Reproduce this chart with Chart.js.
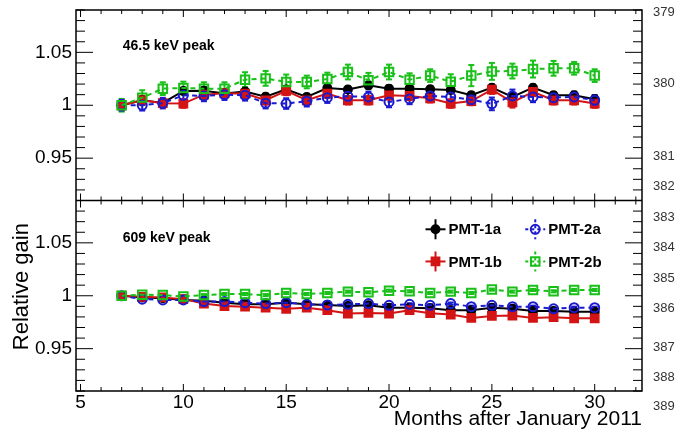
<!DOCTYPE html>
<html>
<head>
<meta charset="utf-8">
<script src="https://cdn.jsdelivr.net/npm/chart.js@4.4.1/dist/chart.umd.min.js"></script>
<style>
  html, body { margin: 0; padding: 0; background: #fff; }
  #wrap { width: 676px; height: 432px; }
</style>
</head>
<body>
<div id="wrap"><canvas id="gainChart" width="676" height="432"></canvas></div>
<script>
// months after January 2011
const months = [7, 8, 9, 10, 11, 12, 13, 14, 15, 16, 17, 18, 19, 20, 21, 22, 23, 24, 25, 26, 27, 28, 29, 30];

// 46.5 keV peak (top pad)
const low1a = [1.0, 1.0047, 1.0022, 1.0135, 1.0138, 1.011, 1.0129, 1.008, 1.015, 1.0078, 1.0163, 1.0148,
               1.0188, 1.0157, 1.0157, 1.0151, 1.0144, 1.0094, 1.0166, 1.0079, 1.0166, 1.0094, 1.0094, 1.0057];
const low1b = [1.0, 1.0047, 1.002, 1.0016, 1.010, 1.0113, 1.011, 1.0047, 1.0135, 1.0047, 1.011, 1.0047,
               1.0047, 1.0094, 1.0088, 1.0066, 1.0016, 1.004, 1.0148, 1.0028, 1.0126, 1.0047, 1.0047, 1.0016];
const low2a = [1.0, 1.0, 1.002, 1.0094, 1.0088, 1.010, 1.0094, 1.002, 1.0016, 1.0038, 1.0072, 1.0085,
               1.0079, 1.0031, 1.006, 1.0088, 1.0079, 1.0053, 1.0013, 1.0088, 1.0079, 1.0072, 1.0079, 1.0047];
const low2b = [1.0, 1.0072, 1.0157, 1.0163, 1.0157, 1.0157, 1.0242, 1.0254, 1.022, 1.022, 1.0248, 1.0314,
               1.0236, 1.0314, 1.0242, 1.028, 1.0223, 1.028, 1.032, 1.0323, 1.0342, 1.0349, 1.0349, 1.028];
const lowErr1a = [0.003, 0.003, 0.003, 0.003, 0.003, 0.003, 0.003, 0.003, 0.003, 0.003, 0.003, 0.003,
                  0.003, 0.003, 0.003, 0.003, 0.003, 0.003, 0.003, 0.003, 0.003, 0.003, 0.003, 0.003];
const lowErr1b = [0.004, 0.004, 0.004, 0.004, 0.004, 0.004, 0.004, 0.004, 0.004, 0.004, 0.004, 0.004,
                  0.004, 0.004, 0.004, 0.004, 0.004, 0.004, 0.004, 0.005, 0.004, 0.004, 0.004, 0.004];
const lowErr2a = [0.005, 0.005, 0.005, 0.005, 0.005, 0.005, 0.005, 0.005, 0.005, 0.005, 0.005, 0.005,
                  0.005, 0.005, 0.005, 0.005, 0.005, 0.005, 0.006, 0.006, 0.005, 0.005, 0.005, 0.005];
const lowErr2b = [0.006, 0.007, 0.006, 0.006, 0.006, 0.006, 0.007, 0.007, 0.007, 0.006, 0.006, 0.007,
                  0.007, 0.007, 0.006, 0.006, 0.007, 0.010, 0.008, 0.007, 0.008, 0.007, 0.006, 0.006];

// 609 keV peak (bottom pad)
const high1a = [1.0, 0.9984, 0.9977, 0.9961, 0.9952, 0.9935, 0.9919, 0.9919, 0.9935, 0.9919, 0.9913, 0.9903,
                0.991, 0.9887, 0.9887, 0.9881, 0.9864, 0.9864, 0.9887, 0.9877, 0.9855, 0.9855, 0.9848, 0.9848];
const high1b = [1.0, 0.999, 0.9984, 0.9968, 0.9926, 0.9903, 0.9897, 0.9887, 0.9877, 0.9887, 0.9864, 0.9832,
                0.9838, 0.9832, 0.9864, 0.9835, 0.9822, 0.979, 0.9809, 0.9813, 0.979, 0.9797, 0.9787, 0.9787];
const high2a = [1.0, 0.9968, 0.9961, 0.9961, 0.9945, 0.9945, 0.9935, 0.9926, 0.9935, 0.9919, 0.9913, 0.9919,
                0.9926, 0.991, 0.9919, 0.991, 0.9926, 0.9897, 0.991, 0.9897, 0.9897, 0.9877, 0.9887, 0.9887];
const high2b = [1.0, 1.001, 1.0006, 0.9994, 1.0006, 1.0016, 1.0016, 1.0006, 1.0026, 1.0016, 1.0026, 1.0039,
                1.0032, 1.0048, 1.0042, 1.0026, 1.0039, 1.0026, 1.0058, 1.0039, 1.0055, 1.0042, 1.0055, 1.0055];
const highErr = [0.001, 0.001, 0.001, 0.001, 0.001, 0.001, 0.001, 0.001, 0.001, 0.001, 0.001, 0.001,
                 0.001, 0.001, 0.001, 0.001, 0.001, 0.001, 0.001, 0.001, 0.001, 0.001, 0.001, 0.001];

const xTickVals = [5, 10, 15, 20, 25, 30];
const yTickVals = [0.95, 1, 1.05];
const panelNotes = ['46.5 keV peak', '609 keV peak'];
const legendOrder = ['PMT-1a', 'PMT-2a', 'PMT-1b', 'PMT-2b'];

// stray labels on the right edge of the frame
const sideTopLabels = ['379', '380', '381', '382'];
const sideBotLabels = ['383', '384', '385', '386', '387', '388', '389'];

const styles = {
  'PMT-1a': { color: '#000000', fill: '#000000', dash: [], marker: 'circle', radius: 4 },
  'PMT-1b': { color: '#d41414', fill: '#d41414', dash: [], marker: 'rect', radius: 5.5 },
  'PMT-2a': { color: '#1a1ad0', fill: 'rgba(0,0,0,0)', dash: [5, 4], marker: 'circle', radius: 4.5 },
  'PMT-2b': { color: '#18c018', fill: 'rgba(0,0,0,0)', dash: [5, 4], marker: 'rect', radius: 6 }
};

const FONT = "'Liberation Sans', Arial, sans-serif";

function series(label, values, errors, axis) {
  const st = styles[label];
  return {
    label: label,
    yAxisID: axis,
    data: months.map((m, i) => ({ x: m, y: values[i] })),
    errors: errors,
    borderColor: st.color,
    backgroundColor: st.fill,
    pointBorderColor: st.color,
    pointBackgroundColor: st.fill,
    borderWidth: 2,
    borderDash: st.dash,
    pointStyle: st.marker,
    pointRadius: st.radius,
    pointBorderWidth: 2,
    fill: false,
    tension: 0
  };
}

function line(ctx, x0, y0, x1, y1) {
  ctx.beginPath();
  ctx.moveTo(x0, y0);
  ctx.lineTo(x1, y1);
  ctx.stroke();
}

function marker(ctx, st, x, y) {
  ctx.save();
  ctx.setLineDash([]);
  ctx.lineWidth = 2;
  ctx.strokeStyle = st.color;
  ctx.fillStyle = st.fill;
  ctx.beginPath();
  if (st.marker === 'circle') {
    ctx.arc(x, y, st.radius, 0, Math.PI * 2);
  } else {
    const h = st.radius * Math.SQRT1_2;
    ctx.rect(x - h, y - h, 2 * h, 2 * h);
  }
  ctx.fill();
  ctx.stroke();
  ctx.restore();
}

// vertical error bars with small caps
const errorBars = {
  id: 'errorBars',
  beforeDatasetsDraw(chart) {
    const ctx = chart.ctx;
    ctx.save();
    chart.data.datasets.forEach((ds, i) => {
      const meta = chart.getDatasetMeta(i);
      const scale = chart.scales[ds.yAxisID];
      ctx.strokeStyle = ds.borderColor;
      ctx.lineWidth = 2;
      meta.data.forEach((pt, j) => {
        const v = ds.data[j].y;
        const yHi = scale.getPixelForValue(v + ds.errors[j]);
        const yLo = scale.getPixelForValue(v - ds.errors[j]);
        line(ctx, pt.x, yHi, pt.x, yLo);
        line(ctx, pt.x - 3, yHi, pt.x + 3, yHi);
        line(ctx, pt.x - 3, yLo, pt.x + 3, yLo);
      });
    });
    ctx.restore();
  }
};

// ROOT style frame: box, pad divider and inward ticks on every side
const frameTicks = {
  id: 'frameTicks',
  afterDatasetsDraw(chart) {
    const { ctx, chartArea: a, scales } = chart;
    const x = scales.x;
    const mid = scales.yTop.bottom;
    ctx.save();
    ctx.strokeStyle = '#000';
    ctx.lineWidth = 1.5;
    ctx.strokeRect(a.left, a.top, a.right - a.left, a.bottom - a.top);
    line(ctx, a.left, mid, a.right, mid);
    ctx.lineWidth = 1;
    for (let v = Math.ceil(x.min); v <= x.max; v++) {
      const px = x.getPixelForValue(v);
      const len = v % 5 === 0 ? 7 : 4;
      line(ctx, px, a.top, px, a.top + len);
      line(ctx, px, mid, px, mid - len);
      line(ctx, px, mid, px, mid + len);
      line(ctx, px, a.bottom, px, a.bottom - len);
    }
    [scales.yTop, scales.yBot].forEach(s => {
      for (let k = Math.ceil(s.min * 100); k <= Math.floor(s.max * 100); k++) {
        const py = s.getPixelForValue(k / 100);
        const len = k % 5 === 0 ? 17 : 9;
        line(ctx, a.left, py, a.left + len, py);
        line(ctx, a.right, py, a.right - len, py);
      }
    });
    ctx.restore();
  }
};

const annotations = {
  id: 'annotations',
  afterDraw(chart) {
    const { ctx, scales: { x, yTop, yBot }, chartArea: a } = chart;
    ctx.save();
    // pad titles
    ctx.fillStyle = '#000';
    ctx.font = `bold 14px ${FONT}`;
    ctx.textBaseline = 'middle';
    ctx.textAlign = 'left';
    ctx.fillText(panelNotes[0], x.getPixelForValue(7.05), yTop.getPixelForValue(1.0555));
    ctx.fillText(panelNotes[1], x.getPixelForValue(7.05), yBot.getPixelForValue(1.054));

    // legend, two columns in the lower pad
    const colX = [22.26, 27.11];
    const rowY = [1.0628, 1.0324];
    ctx.font = `bold 15px ${FONT}`;
    legendOrder.forEach((label, i) => {
      const st = styles[label];
      const cx = x.getPixelForValue(colX[i % 2]);
      const cy = yBot.getPixelForValue(rowY[Math.floor(i / 2)]);
      ctx.strokeStyle = st.color;
      ctx.lineWidth = 2;
      ctx.setLineDash(st.dash.length ? [3, 3] : []);
      line(ctx, cx - 10, cy, cx + 10, cy);
      line(ctx, cx, cy - 10, cx, cy + 10);
      ctx.setLineDash([]);
      marker(ctx, st, cx, cy);
      ctx.fillStyle = '#000';
      ctx.fillText(label, cx + 13, cy + 1);
    });

    // y title sits on the lower pad, shifted toward its top like ROOT does
    ctx.save();
    ctx.font = `22px ${FONT}`;
    ctx.textAlign = 'center';
    ctx.translate(22, yBot.getPixelForValue(1.0086));
    ctx.rotate(-Math.PI / 2);
    ctx.fillText('Relative gain', 0, 0);
    ctx.restore();

    // right edge labels
    ctx.font = `13px ${FONT}`;
    ctx.fillStyle = '#333';
    const topVals = [1.0877, 1.021, 0.9519, 0.923];
    const botVals = [1.0743, 1.0457, 1.0162, 0.9876, 0.9514, 0.9229, 0.8953];
    sideTopLabels.forEach((t, i) => ctx.fillText(t, a.right + 11, yTop.getPixelForValue(topVals[i])));
    sideBotLabels.forEach((t, i) => ctx.fillText(t, a.right + 11, yBot.getPixelForValue(botVals[i])));
    ctx.restore();
  }
};

function yAxis() {
  return {
    type: 'linear',
    position: 'left',
    stack: 'pads',
    stackWeight: 1,
    min: 0.91,
    max: 1.09,
    afterBuildTicks: s => { s.ticks = yTickVals.map(v => ({ value: v })); },
    afterFit: s => { s.width = 76; s.paddingTop = 0; s.paddingBottom = 0; },
    grid: { display: false, drawTicks: false },
    border: { display: false },
    ticks: {
      padding: 4,
      color: '#000',
      font: { family: FONT, size: 19 },
      callback: v => `${v}`
    }
  };
}

const datasets = [
  series('PMT-2b', low2b, lowErr2b, 'yTop'),
  series('PMT-2a', low2a, lowErr2a, 'yTop'),
  series('PMT-1b', low1b, lowErr1b, 'yTop'),
  series('PMT-1a', low1a, lowErr1a, 'yTop'),
  series('PMT-2b', high2b, highErr, 'yBot'),
  series('PMT-2a', high2a, highErr, 'yBot'),
  series('PMT-1b', high1b, highErr, 'yBot'),
  series('PMT-1a', high1a, highErr, 'yBot')
];

new Chart(document.getElementById('gainChart'), {
  type: 'line',
  data: { datasets: datasets },
  options: {
    responsive: false,
    animation: false,
    events: [],
    layout: { padding: { top: 10, right: 34, left: 0, bottom: 0 } },
    plugins: { legend: { display: false }, tooltip: { enabled: false } },
    scales: {
      x: {
        type: 'linear',
        position: 'bottom',
        min: 4.78,
        max: 32.3,
        afterBuildTicks: s => { s.ticks = xTickVals.map(v => ({ value: v })); },
        afterFit: s => { s.height = 41; s.paddingLeft = 0; s.paddingRight = 0; },
        grid: { display: false, drawTicks: false },
        border: { display: false },
        ticks: {
          padding: 0,
          color: '#000',
          font: { family: FONT, size: 19 },
          callback: v => `${v}`,
          maxRotation: 0
        },
        title: {
          display: true,
          text: 'Months after January 2011',
          align: 'end',
          color: '#000',
          font: { family: FONT, size: 21 },
          padding: { top: 0, bottom: 0 }
        }
      },
      // listed bottom first: the stack is laid out from the last one down
      yBot: yAxis(),
      yTop: yAxis()
    }
  },
  plugins: [errorBars, frameTicks, annotations]
});
</script>
</body>
</html>
